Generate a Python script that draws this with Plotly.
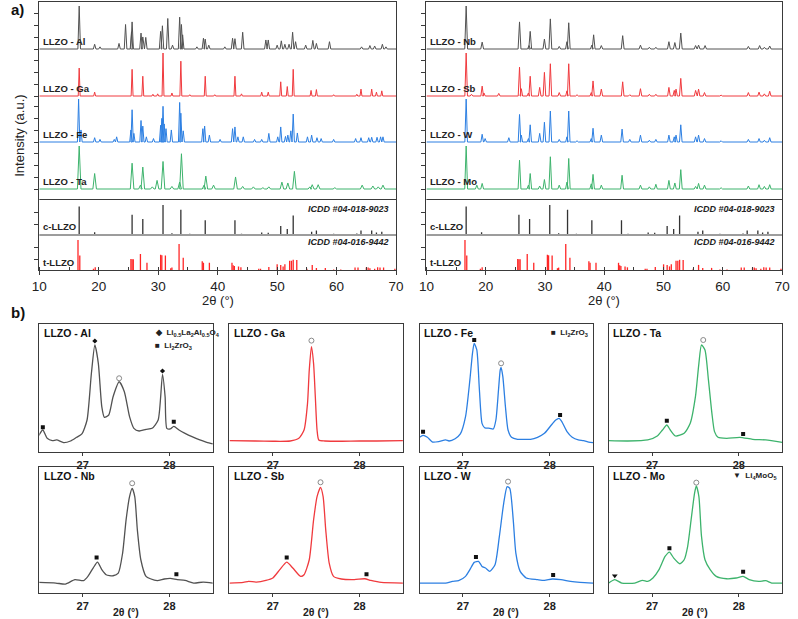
import plotly.graph_objects as go

# ---------------- DATA ----------------
# Panel a) : peak positions (2theta, deg) and relative intensities (%)
al_2t  = [16.7,19.3,20.2,23.4,24.5,25.5,25.6,27.1,27.4,27.9,30.4,30.7,31.6,32.4,33.6,33.9,34.1,36.5,37.6,37.9,38.5,41.2,42.5,42.9,44.2,48.1,48.5,50.0,50.7,51.3,52.0,52.6,53.1,54.8,56.0,56.6,58.8,64.2,65.6,66.4,67.7,68.3]
al_int = [100,11,5,13,57,40,63,37,28,27,41,54,71,9,74,57,33,5,25,23,9,5,25,24,39,21,21,9,19,11,11,39,17,9,20,13,17,5,8,7,11,5]

ga_2t  = [16.7,19.3,25.6,27.4,29.1,29.9,30.8,32.3,33.8,35.3,37.9,39.5,42.9,44.0,47.4,48.5,50.6,51.7,52.7,55.7,56.6,59.5,63.4,64.1,65.9,66.7,67.6]
ga_int = [65,9,62,46,4,5,100,7,81,3,46,3,46,5,9,9,33,22,62,13,15,3,4,16,16,9,12]

fe_2t  = [16.6,17.0,19.3,20.2,22.6,23.0,25.4,25.6,25.9,27.1,27.4,28.0,29.2,30.4,30.6,30.8,31.0,31.3,32.2,33.6,33.8,34.2,37.5,37.8,38.6,40.4,42.5,42.9,43.4,44.3,46.2,47.4,48.6,50.1,50.6,51.4,51.8,52.3,52.7,53.4,55.1,55.8,56.7,57.4,59.5,63.2,64.1,65.4,65.9,66.8,67.4,67.8]
fe_int = [100,28,10,6,6,12,28,75,20,50,37,12,8,39,55,83,42,31,28,92,67,26,31,37,16,6,31,35,12,12,6,6,20,12,35,13,16,26,65,21,12,16,10,8,6,8,10,10,11,11,12,12]

ta_2t  = [16.7,19.3,25.6,27.0,27.4,29.0,29.8,30.8,32.3,33.6,33.9,37.7,38.0,39.3,43.0,44.2,46.0,47.6,48.6,50.8,51.8,52.9,55.5,55.9,56.9,59.7,64.3,66.1,67.0,67.8]
ta_int = [100,36,60,9,51,5,20,64,6,16,82,9,30,9,28,6,5,3,5,16,14,41,5,10,10,3,9,7,5,9]

nb_2t  = [16.7,19.4,25.7,27.3,27.5,29.9,30.9,32.4,33.7,34.0,37.9,38.2,39.5,43.1,46.1,47.6,48.7,50.9,51.9,52.9,55.4,55.9,57.0,64.3,66.2,67.0,67.9]
nb_int = [100,16,63,8,41,23,70,6,17,61,9,33,8,31,9,4,4,17,15,37,8,9,8,6,8,4,7]

sb_2t  = [16.7,17.6,19.4,19.7,22.2,25.7,26.0,27.2,27.5,29.1,29.9,30.9,32.4,33.7,34.0,35.4,37.8,38.1,39.5,43.1,44.3,46.1,47.6,48.7,50.9,51.8,52.1,52.9,55.4,55.9,56.9,59.7,64.3,66.1,67.0,67.9]
sb_int = [100,4,23,7,6,67,17,7,46,20,55,75,8,12,75,3,8,35,16,33,3,17,4,4,20,13,16,41,13,16,8,2,8,9,5,11]

w_2t   = [16.7,19.4,19.9,23.9,25.7,26.0,27.2,27.5,29.1,29.9,30.9,32.4,33.7,34.0,35.4,37.8,38.1,39.5,43.0,44.3,46.1,47.6,48.7,50.9,51.8,52.1,52.9,55.4,55.9,56.9,59.7,64.3,66.1,67.0,67.9]
w_int  = [100,18,8,10,64,16,8,40,20,46,72,6,12,72,3,8,32,16,30,6,16,4,6,16,12,16,40,12,16,8,3,6,8,4,10]

mo_2t  = [16.7,18.5,19.4,25.7,27.2,27.5,29.1,29.9,30.9,32.4,33.7,34.0,37.8,38.1,39.5,43.0,46.1,47.6,48.7,50.9,51.9,52.9,55.4,55.9,56.9,59.7,64.3,66.1,67.0,67.9]
mo_int = [100,9,13,67,9,36,7,22,75,9,16,71,12,34,9,32,9,5,11,20,14,45,6,13,9,3,7,10,6,10]

c_llzo_2t  = [16.7,19.3,25.6,27.4,30.8,32.3,33.8,35.3,37.9,42.9,44.0,47.4,48.5,50.6,51.7,52.7,55.8,56.6,59.5,63.4,64.1,65.9,66.7,67.6]
c_llzo_int = [95,6,66,52,100,3,84,1,47,47,1,5,4,28,17,64,8,12,1,2,12,12,5,8]

t_llzo_2t  = [16.5,16.8,19.1,19.4,25.4,25.6,25.8,27.0,28.1,30.4,30.6,31.2,32.1,32.3,33.5,34.2,37.4,37.6,38.6,42.4,42.6,42.8,43.5,43.9,46.9,47.2,48.6,50.0,50.6,51.0,51.3,52.1,52.4,52.7,53.3,55.0,55.9,56.6,58.1,59.5,60.7,63.1,63.6,65.0,65.3,65.6,66.4,66.9,67.3,67.9,69.8]
t_llzo_int = [100,48,4,9,37,36,36,53,24,51,49,48,6,8,87,41,29,24,24,24,16,13,12,9,4,4,10,19,17,12,19,31,31,34,33,4,17,7,7,2,2,8,8,8,8,6,4,9,8,8,4]

x_ticks_a = [10, 20, 30, 40, 50, 60, 70]
x_ticks_b = [27, 28]

# Panel b) : zoomed profiles (2theta, relative intensity a.u.)
b_al_x = [26.48,26.54,26.59,26.65,26.70,26.78,26.86,26.93,26.99,27.05,27.10,27.14,27.18,27.22,27.25,27.30,27.35,27.42,27.48,27.54,27.59,27.65,27.73,27.80,27.87,27.92,27.95,27.97,28.01,28.05,28.11,28.18,28.26,28.35,28.43,28.50]
b_al_y = [11.5,17.2,10.7,8.9,9.4,7.3,8.6,11.5,14.1,25,61.5,83.6,69.3,35.4,27.1,28.9,43.2,54.9,47.1,27.6,18.5,16.4,17.7,18.5,25,60.7,43.2,18.5,18,20,17.2,14.6,12,9.4,7.6,6.3]
b_ga_x = [26.50,26.80,27.00,27.20,27.30,27.36,27.40,27.42,27.445,27.47,27.49,27.51,27.53,27.60,27.80,28.00,28.20,28.50]
b_ga_y = [8.9,8.6,8.4,8.6,10.7,17.2,38,64,82.3,69,43,17.2,9.4,8.6,8.4,8.6,8.6,8.9]
b_fe_x = [26.50,26.54,26.59,26.65,26.72,26.80,26.84,26.91,26.97,27.03,27.08,27.11,27.13,27.16,27.19,27.22,27.25,27.31,27.35,27.38,27.41,27.43,27.44,27.46,27.49,27.52,27.56,27.63,27.71,27.78,27.86,27.94,28.01,28.07,28.11,28.14,28.20,28.26,28.33,28.39,28.45,28.50]
b_fe_y = [11.5,13,11.5,7.8,8.1,9.4,8.6,10.4,14.1,27.6,56.3,77.1,84.9,79.7,48.4,22.4,19,18.5,18,25,48.4,64.1,66.1,58.9,35.4,17.2,11.5,9.9,9.9,9.9,11.5,14.6,20.3,25,26.3,23.7,15.9,11.5,9.4,8.9,7.8,7.3]
b_ta_x = [26.50,26.72,26.95,27.06,27.12,27.17,27.21,27.27,27.37,27.44,27.50,27.54,27.57,27.61,27.65,27.69,27.72,27.76,27.86,28.01,28.16,28.31,28.50]
b_ta_y = [8.9,8.6,9.4,12.5,17.2,21.1,17.2,12.5,14.6,22.4,43.2,69.3,83.6,79.7,56.3,30.2,15.9,11.5,10.7,11.5,9.9,9.4,7.6]
b_nb_x = [26.48,26.69,26.80,26.91,27.01,27.06,27.12,27.17,27.22,27.27,27.35,27.41,27.46,27.50,27.54,27.57,27.60,27.63,27.67,27.73,27.78,27.86,27.94,28.01,28.09,28.18,28.28,28.39,28.50]
b_nb_y = [8.4,7.9,7.1,10.6,9.8,13.2,19.8,24.5,18.5,14.5,13.7,15.8,31.7,58,76.5,83.1,76.5,50.1,26.4,13.2,11.3,9.8,11.1,11.6,10.6,10,7.9,8.7,7.9]
b_sb_x = [26.50,26.66,26.72,26.81,26.92,27.00,27.08,27.16,27.23,27.32,27.36,27.42,27.47,27.51,27.55,27.58,27.61,27.65,27.70,27.79,27.94,28.06,28.13,28.25,28.50]
b_sb_y = [7.9,8.4,9.2,8.7,10,11.9,18.5,24.5,19.8,13.2,14.5,26.4,58,76.5,83.9,76.5,50.1,23.7,13.2,11.1,10.6,11.3,10,8.4,7.9]
b_w_x  = [26.50,26.65,26.80,26.88,26.95,27.03,27.08,27.13,27.18,27.22,27.26,27.31,27.37,27.42,27.47,27.51,27.54,27.58,27.61,27.66,27.73,27.86,27.94,28.03,28.13,28.24,28.35,28.50]
b_w_y  = [7.9,7.9,7.9,9.2,9.8,13.2,18.5,24.3,25.1,21.1,19.8,17.2,22.4,44.9,71.2,84.4,83.1,58,31.7,17.2,11.9,10.6,10,11.1,10.6,9.2,8.4,7.9]
b_mo_x = [26.50,26.57,26.65,26.80,26.89,26.95,27.01,27.08,27.15,27.20,27.25,27.32,27.37,27.41,27.45,27.49,27.51,27.54,27.57,27.61,27.67,27.74,27.86,27.97,28.05,28.12,28.23,28.31,28.38,28.50]
b_mo_y = [7.9,10.6,7.9,7.9,10,9.2,11.9,18.5,29,32.5,27.7,23.2,26.4,36.9,58,79.2,85,76.5,44.9,26.4,18.5,13.2,11.3,11.9,13.2,10.6,9.2,9.8,7.9,7.9]

# peak markers in panel b
al_lao_x, al_lao_y = [27.14, 27.92], [86.7, 63.3]
al_lzo_x, al_lzo_y = [26.54, 28.05], [19.3, 23.7]
al_llzo_x, al_llzo_y = [27.42], [57.6]
ga_llzo_x, ga_llzo_y = [27.445], [87.0]
fe_lzo_x, fe_lzo_y = [26.54, 27.13, 28.12], [15.9, 87.5, 28.9]
fe_llzo_x, fe_llzo_y = [27.44], [69.3]
ta_lzo_x, ta_lzo_y = [27.17, 28.05], [24.5, 14.1]
ta_llzo_x, ta_llzo_y = [27.59], [87.5]
nb_lzo_x, nb_lzo_y = [27.16, 28.08], [28.2, 14.8]
nb_llzo_x, nb_llzo_y = [27.57], [87.1]
sb_lzo_x, sb_lzo_y = [27.16, 28.08], [28.2, 14.8]
sb_llzo_x, sb_llzo_y = [27.55], [87.9]
w_lzo_x, w_lzo_y = [27.15, 28.04], [28.5, 14.2]
w_llzo_x, w_llzo_y = [27.52], [88.4]
mo_lzo_x, mo_lzo_y = [27.20, 28.05], [35.6, 16.9]
mo_llzo_x, mo_llzo_y = [27.51], [87.6]
mo_lmo_x, mo_lmo_y = [26.57], [13.7]

# ---------------- STYLE / LAYOUT ----------------
W, H = 798, 619
def px(x): return x / W
def py(y): return 1 - y / H

GRAY, RED, BLUE, GREEN = "#525252", "#f03a3e", "#2c7fe2", "#3db36c"
FONT = "Liberation Sans, Arial, sans-serif"
AX = "#3a3a3a"

fig = go.Figure()

# a) panels: y in pixel-like units (0 bottom .. 268 top)
TR_SCALE = 0.43
C_SCALE, T_SCALE = 0.29, 0.30
BASE = {"s1": 221, "s2": 174, "s3": 128, "s4": 81, "c": 36, "t": 0.5}

def profile(pos, inten, base, hw):
    xs, ys = [10], [base]
    for p, h in zip(pos, inten):
        xs += [p - hw, p, p + hw]
        ys += [base, base + h * TR_SCALE, base]
    xs.append(70); ys.append(base)
    return xs, ys

def sticks(pos, inten, base, scale):
    xs, ys = [], []
    for p, h in zip(pos, inten):
        xs += [p, p, None]
        ys += [base, base + h * scale, None]
    return xs, ys

panels_a = [
    ("x", "y", [("LLZO - Al", al_2t, al_int, GRAY, 0.22), ("LLZO - Ga", ga_2t, ga_int, RED, 0.16),
                ("LLZO - Fe", fe_2t, fe_int, BLUE, 0.2), ("LLZO - Ta", ta_2t, ta_int, GREEN, 0.3)]),
    ("x2", "y2", [("LLZO - Nb", nb_2t, nb_int, GRAY, 0.24), ("LLZO - Sb", sb_2t, sb_int, RED, 0.22),
                  ("LLZO - W", w_2t, w_int, BLUE, 0.22), ("LLZO - Mo", mo_2t, mo_int, GREEN, 0.24)]),
]
annotations = []
for xa, ya, samples in panels_a:
    for key, (name, pos, inten, col, hw) in zip(["s1", "s2", "s3", "s4"], samples):
        xs, ys = profile(pos, inten, BASE[key], hw)
        fig.add_trace(go.Scatter(x=xs, y=ys, mode="lines", line=dict(color=col, width=1),
                                 xaxis=xa, yaxis=ya, showlegend=False, hoverinfo="skip"))
        annotations.append(dict(text="<b>" + name + "</b>", x=10.3, y=BASE[key] + 0.5, xref=xa, yref=ya,
                                xanchor="left", yanchor="bottom", showarrow=False,
                                font=dict(size=9.5, color="#222", family=FONT)))
    cx, cy = sticks(c_llzo_2t, c_llzo_int, BASE["c"], C_SCALE)
    fig.add_trace(go.Scatter(x=cx, y=cy, mode="lines", line=dict(color="#333333", width=1.3),
                             xaxis=xa, yaxis=ya, showlegend=False, hoverinfo="skip"))
    tx, ty = sticks(t_llzo_2t, t_llzo_int, 0, T_SCALE)
    fig.add_trace(go.Scatter(x=tx, y=ty, mode="lines", line=dict(color="#ff2626", width=1.3),
                             xaxis=xa, yaxis=ya, showlegend=False, hoverinfo="skip"))
    for txt, yb in [("c-LLZO", BASE["c"] + 0.5), ("t-LLZO", 0.5)]:
        annotations.append(dict(text="<b>" + txt + "</b>", x=10.3, y=yb, xref=xa, yref=ya, xanchor="left",
                                yanchor="bottom", showarrow=False, font=dict(size=9.5, color="#222", family=FONT)))
    for txt, yc in [("ICDD #04-018-9023", 61), ("ICDD #04-016-9442", 28)]:
        annotations.append(dict(text="<b><i>" + txt + "</i></b>", x=69.1, y=yc, xref=xa, yref=ya,
                                xanchor="right", yanchor="middle", showarrow=False,
                                font=dict(size=9, color="#222", family=FONT)))

shapes = []
for xa, ya in [("x", "y"), ("x2", "y2")]:
    for yv in [70.5, 35]:
        shapes.append(dict(type="line", xref=xa + " domain", yref=ya, x0=0, x1=1, y0=yv, y1=yv,
                           line=dict(color=AX, width=1)))

ytick_a = []
for k in ["s1", "s2", "s3", "s4"]:
    ytick_a += [BASE[k] + 11.7 * i for i in range(4)]
ytick_a += [BASE["c"] + 10, BASE["c"] + 22, 11, 23]

dom_y_a = [py(270), py(2)]
xa_common = dict(range=[10, 70], tickvals=x_ticks_a, ticks="outside", ticklen=4, tickwidth=1, tickcolor=AX,
                 showline=True, linecolor=AX, linewidth=1, mirror=True, showgrid=False, zeroline=False,
                 minor=dict(dtick=5, tick0=10, ticks="inside", ticklen=3, tickcolor=AX),
                 tickfont=dict(size=13.5, color="#222", family=FONT))
ya_common = dict(range=[0, 268], tickvals=ytick_a, showticklabels=False, ticks="outside", ticklen=4,
                 tickcolor=AX, showline=True, linecolor=AX, linewidth=1, mirror=True, showgrid=False,
                 zeroline=False)
layout = dict(
    xaxis=dict(domain=[px(32), px(396)], anchor="y", **xa_common),
    yaxis=dict(domain=dom_y_a, anchor="x", **ya_common),
    xaxis2=dict(domain=[px(427), px(790)], anchor="y2", **xa_common),
    yaxis2=dict(domain=dom_y_a, anchor="x2", **ya_common),
)

# b) panels
b_cols = [(32, 209), (226, 403), (420, 597), (613, 790)]
b_rows = [(324, 452), (467, 593)]
b_data = [
    ("LLZO - Al", b_al_x, b_al_y, GRAY), ("LLZO - Ga", b_ga_x, b_ga_y, RED),
    ("LLZO - Fe", b_fe_x, b_fe_y, BLUE), ("LLZO - Ta", b_ta_x, b_ta_y, GREEN),
    ("LLZO - Nb", b_nb_x, b_nb_y, GRAY), ("LLZO - Sb", b_sb_x, b_sb_y, RED),
    ("LLZO - W", b_w_x, b_w_y, BLUE), ("LLZO - Mo", b_mo_x, b_mo_y, GREEN),
]
b_marks = [
    [("diamond", al_lao_x, al_lao_y), ("square", al_lzo_x, al_lzo_y), ("open", al_llzo_x, al_llzo_y)],
    [("open", ga_llzo_x, ga_llzo_y)],
    [("square", fe_lzo_x, fe_lzo_y), ("open", fe_llzo_x, fe_llzo_y)],
    [("square", ta_lzo_x, ta_lzo_y), ("open", ta_llzo_x, ta_llzo_y)],
    [("square", nb_lzo_x, nb_lzo_y), ("open", nb_llzo_x, nb_llzo_y)],
    [("square", sb_lzo_x, sb_lzo_y), ("open", sb_llzo_x, sb_llzo_y)],
    [("square", w_lzo_x, w_lzo_y), ("open", w_llzo_x, w_llzo_y)],
    [("square", mo_lzo_x, mo_lzo_y), ("open", mo_llzo_x, mo_llzo_y), ("triangle-down", mo_lmo_x, mo_lmo_y)],
]
for i, ((name, bx, by, col), marks) in enumerate(zip(b_data, b_marks)):
    n = i + 3
    r, c = divmod(i, 4)
    x0, x1 = b_cols[c]
    y0, y1 = b_rows[r]
    layout[f"xaxis{n}"] = dict(domain=[px(x0), px(x1)], anchor=f"y{n}", range=[26.5, 28.5], tickvals=x_ticks_b,
                               ticks="outside", ticklen=3, tickcolor=AX, showline=True, linecolor=AX,
                               linewidth=1, mirror=True, showgrid=False, zeroline=False,
                               tickfont=dict(size=11, color="#222", family=FONT, weight="bold"))
    layout[f"yaxis{n}"] = dict(domain=[py(y1), py(y0)], anchor=f"x{n}", range=[0, 100], showticklabels=False,
                               ticks="", showline=True, linecolor=AX, linewidth=1, mirror=True,
                               showgrid=False, zeroline=False)
    fig.add_trace(go.Scatter(x=bx, y=by, mode="lines", line=dict(color=col, width=1.3, shape="spline",
                  smoothing=0.6), xaxis=f"x{n}", yaxis=f"y{n}", showlegend=False, hoverinfo="skip"))
    for sym, mx, my in marks:
        if sym == "open":
            mk = dict(symbol="circle-open", size=5, color="#8a8a8a", line=dict(width=1, color="#8a8a8a"))
        elif sym == "triangle-down":
            mk = dict(symbol=sym, size=5, color="#111")
        else:
            mk = dict(symbol=sym, size=4, color="#111")
        fig.add_trace(go.Scatter(x=mx, y=my, mode="markers", marker=mk, xaxis=f"x{n}", yaxis=f"y{n}",
                                 showlegend=False, hoverinfo="skip"))
    annotations.append(dict(text="<b>" + name + "</b>", x=0.015, y=0.995, xref=f"x{n} domain",
                            yref=f"y{n} domain", xanchor="left", yanchor="top", showarrow=False,
                            font=dict(size=10.5, color="#111", family=FONT)))

# legends inside b panels
leg_font = dict(size=8, color="#222", family=FONT)
annotations += [
    dict(text="<b>\u25c6  Li<sub>0.5</sub>La<sub>2</sub>Al<sub>0.5</sub>O<sub>4</sub></b>", x=px(148), y=py(333),
         xref="paper", yref="paper", xanchor="left", yanchor="middle", showarrow=False, font=leg_font),
    dict(text="<b>\u25a0  Li<sub>2</sub>ZrO<sub>3</sub></b>", x=px(148), y=py(346),
         xref="paper", yref="paper", xanchor="left", yanchor="middle", showarrow=False, font=leg_font),
    dict(text="<b>\u25a0  Li<sub>2</sub>ZrO<sub>3</sub></b>", x=px(594), y=py(333),
         xref="paper", yref="paper", xanchor="right", yanchor="middle", showarrow=False, font=leg_font),
    dict(text="<b>\u25bc  Li<sub>4</sub>MoO<sub>5</sub></b>", x=px(787), y=py(476),
         xref="paper", yref="paper", xanchor="right", yanchor="middle", showarrow=False, font=leg_font),
]

# titles & panel letters
annotations += [
    dict(text="<b>a)</b>", x=px(1), y=py(9), xref="paper", yref="paper", xanchor="left", yanchor="middle",
         showarrow=False, font=dict(size=15, color="#111", family=FONT)),
    dict(text="<b>b)</b>", x=px(1), y=py(312), xref="paper", yref="paper", xanchor="left", yanchor="middle",
         showarrow=False, font=dict(size=15, color="#111", family=FONT)),
    dict(text="Intensity (a.u.)", x=px(11), y=py(136), xref="paper", yref="paper", textangle=-90,
         xanchor="center", yanchor="middle", showarrow=False, font=dict(size=13, color="#222", family=FONT)),
    dict(text="2\u03b8 (\u00b0)", x=px(214), y=py(300), xref="paper", yref="paper", xanchor="center",
         yanchor="middle", showarrow=False, font=dict(size=13, color="#222", family=FONT)),
    dict(text="2\u03b8 (\u00b0)", x=px(608), y=py(300), xref="paper", yref="paper", xanchor="center",
         yanchor="middle", showarrow=False, font=dict(size=13, color="#222", family=FONT)),
]
for (x0, x1) in b_cols:
    annotations.append(dict(text="<b>2\u03b8 (\u00b0)</b>", x=px((x0 + x1) / 2), y=py(612), xref="paper",
                            yref="paper", xanchor="center", yanchor="middle", showarrow=False,
                            font=dict(size=10.5, color="#222", family=FONT)))

fig.update_layout(**layout)
fig.update_layout(width=W, height=H, margin=dict(l=0, r=0, t=0, b=0), paper_bgcolor="white",
                  plot_bgcolor="white", annotations=annotations, shapes=shapes,
                  font=dict(family=FONT))
fig.write_html("out.html", config={"displayModeBar": False},
               post_script="document.body.style.margin='0';")
